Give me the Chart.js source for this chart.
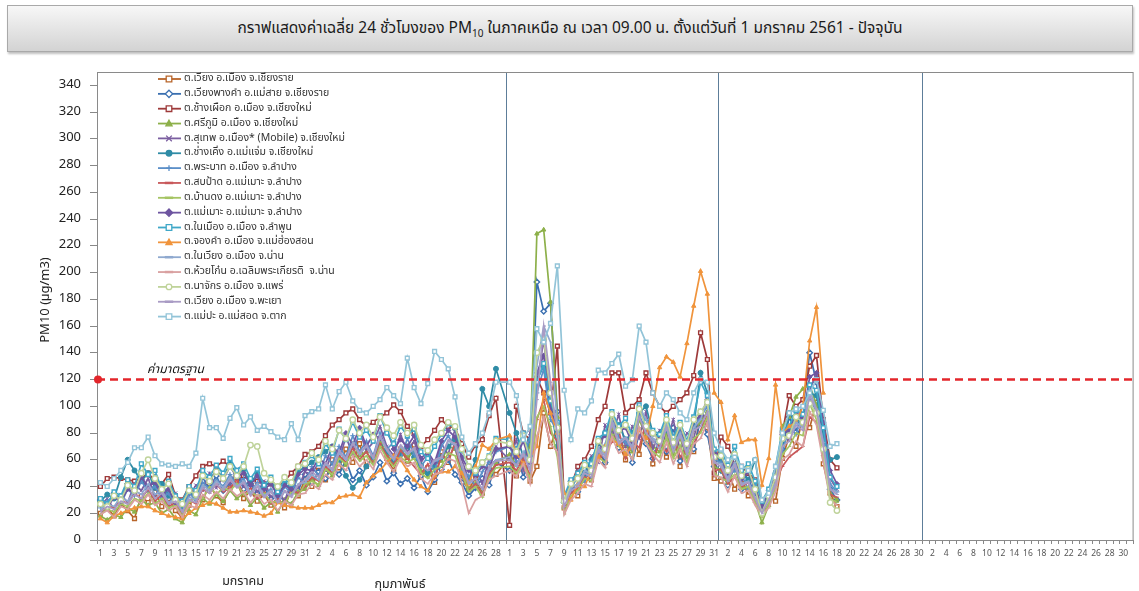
<!DOCTYPE html>
<html>
<head>
<meta charset="utf-8">
<script src="https://cdn.jsdelivr.net/npm/chart.js@4.4.1/dist/chart.umd.min.js"></script>
<style>
  html,body{margin:0;padding:0;background:#fff;}
  body{width:1139px;height:591px;overflow:hidden;position:relative;font-family:Tahoma,"Noto Sans Thai","Loma","Garuda","Noto Sans","DejaVu Sans",sans-serif;}
  #c{position:absolute;left:0;top:0;}
  .title{position:absolute;left:7px;top:5px;width:1124px;height:45px;border:1px solid #a9a9a9;
    background:linear-gradient(#f7f7f7,#d3d3d3);box-shadow:1px 2px 2px rgba(0,0,0,0.25);
    text-align:center;line-height:45px;font-size:15.5px;color:#1a1a1a;}
  .title sub{font-size:10px;vertical-align:-4px;line-height:0;}
  .month{position:absolute;font-size:12.5px;color:#222;transform:translateX(-50%);white-space:nowrap;}
</style>
</head>
<body>
<div class="title">กราฟแสดงค่าเฉลี่ย 24 ชั่วโมงของ PM<sub>10</sub> ในภาคเหนือ ณ เวลา 09.00 น. ตั้งแต่วันที่ 1 มกราคม 2561 - ปัจจุบัน</div>
<canvas id="c" width="1139" height="591"></canvas>
<div class="month" style="left:243px;top:572px;">มกราคม</div>
<div class="month" style="left:400px;top:575px;">กุมภาพันธ์</div>
<script>
// ---- axis structure (slots per month on the category axis; Feb has a 29th empty slot) ----
const monthDays = [31, 29, 31, 30, 31];
const realFebDays = 28;
const dividerMonthIdx = [2, 3, 4];        // vertical lines before these months
const standardValue = 120;                // ค่ามาตรฐาน
const yMax = 350, yStep = 20, yLabelMax = 340;

// ---- station names ----
const stationNames = [
  "ต.เวียง อ.เมือง จ.เชียงราย",
  "ต.เวียงพางคำ อ.แม่สาย จ.เชียงราย",
  "ต.ช้างเผือก อ.เมือง จ.เชียงใหม่",
  "ต.ศรีภูมิ อ.เมือง จ.เชียงใหม่",
  "ต.สุเทพ อ.เมือง* (Mobile) จ.เชียงใหม่",
  "ต.ช่างเคิ่ง อ.แม่แจ่ม จ.เชียงใหม่",
  "ต.พระบาท อ.เมือง จ.ลำปาง",
  "ต.สบป้าด อ.แม่เมาะ จ.ลำปาง",
  "ต.บ้านดง อ.แม่เมาะ จ.ลำปาง",
  "ต.แม่เมาะ อ.แม่เมาะ จ.ลำปาง",
  "ต.ในเมือง อ.เมือง จ.ลำพูน",
  "ต.จองคำ อ.เมือง จ.แม่ฮ่องสอน",
  "ต.ในเวียง อ.เมือง จ.น่าน",
  "ต.ห้วยโก๋น อ.เฉลิมพระเกียรติ  จ.น่าน",
  "ต.นาจักร อ.เมือง จ.แพร่",
  "ต.เวียง อ.เมือง จ.พะเยา",
  "ต.แม่ปะ อ.แม่สอด จ.ตาก"
];
const seriesColors = ["#B8652A","#3A6FB0","#9E3A3A","#8DB04A","#7B5EA0","#2F8CA6","#5B8FC8","#C8585A",
  "#A5C463","#6E55A0","#3FA8C8","#F0943C","#8FA9CF","#D9A0A0","#BFD39A","#A99BC4","#92C4D8"];
const seriesMarkers = ["rect","rectRot","rect","triangle","crossRot","circle","cross","dash",
  "dash","rectRot","rect","triangle","dash","dash","circle","dash","rect"];
const seriesOpen = [true,true,true,false,false,false,false,false,false,false,true,false,false,false,true,false,true];

// ---- daily values, 1 Jan – 18 Apr 2561 (Jan 31, Feb 28, Mar 31, Apr 18 values) ----
const st01 = [20,24,18,27,22,16,33,28,36,25, 31,22,17,26,35,30,41,33,28,39, 44,31,37,29,34,26,30,24,38,33,45,
  40,52,45,60,54,68,58,72,55,63, 74,61,52,68,59,71,47,54,43,66, 58,73,45,38,46,35,55,49,
  62,48,55,44,55,95,70,86,24,41, 33,50,45,66,58,83,72,60,79,64, 88,57,74,62,80,55,71,66,93,84,46,
  44,52,38,47,33,41,23,35,29,61, 78,70,92,84,103,57,35,25];
const st02 = [30,26,35,31,42,36,45,38,47,33, 37,28,25,36,31,44,39,48,37,43, 50,38,42,35,40,31,36,28,41,37,49,
  43,51,46,55,49,60,45,52,41,47, 58,44,50,42,46,39,48,36,45,53, 60,49,43,33,39,46,41,58,
  52,68,47,60,193,171,177,96,28,44, 36,53,48,70,58,84,69,75,58,80, 72,61,77,66,84,59,73,68,90,79,55,
  52,41,56,38,47,32,27,34,45,68, 92,81,97,140,118,72,38,30];
const st03 = [40,46,47,46,45,44,46,50,44,42, 49,33,30,40,48,55,57,55,59,55, 50,48,45,44,42,42,40,44,50,55,64,
  66,70,78,86,90,95,98,90,85,88, 92,95,101,96,85,80,70,75,82,90, 85,84,72,62,71,75,93,106,
  11,100,80,75,121,110,95,145,30,40, 55,60,70,90,100,125,125,95,100,105, 125,110,100,95,100,105,110,123,155,135,50,
  77,70,60,55,50,45,30,35,50,80, 108,100,105,130,138,90,60,54];
const st04 = [18,15,19,17,24,21,30,26,28,20, 23,16,13,22,19,31,27,34,29,37, 31,35,26,32,24,28,21,30,27,36,38,
  45,41,53,48,62,56,72,63,66,58, 75,64,57,68,62,66,52,48,57,59, 70,68,52,38,42,35,48,58,
  64,56,60,70,229,232,178,92,24,36, 38,47,52,63,68,84,72,70,66,90, 78,70,66,80,64,76,62,82,88,96,55,
  52,43,54,40,39,29,13,26,40,85, 92,107,113,116,101,64,35,30];
const st05 = [26,31,23,34,28,42,37,46,33,40, 27,35,22,33,41,37,50,39,47,42, 53,40,45,36,44,32,38,29,43,39,51,
  49,58,52,66,60,77,64,81,67,73, 85,70,63,79,66,74,58,65,54,72, 64,83,60,45,53,42,61,70,
  60,75,52,80,115,150,102,88,27,40, 52,44,63,58,86,77,94,70,85,76, 96,68,82,74,90,67,80,76,97,88,63,
  60,48,63,44,52,37,21,36,43,78, 74,95,86,112,125,76,46,38];
const st06 = [29,34,31,47,60,52,44,50,39,42, 33,30,24,36,33,49,45,52,47,57, 49,53,42,50,40,44,33,42,38,52,54,
  58,62,66,70,60,48,39,45,55,62, 70,66,60,64,70,62,56,50,55,62, 70,75,52,45,60,113,100,128,
  95,80,62,75,120,130,100,70,30,38, 48,50,60,72,80,90,86,75,80,95, 100,80,78,82,76,80,74,85,125,110,65,
  60,55,62,50,45,60,28,32,50,72, 95,90,88,110,108,80,60,62];
const st07 = [24,29,33,27,38,33,44,36,40,31, 35,26,21,35,30,43,38,45,40,49, 41,46,35,43,33,38,29,40,35,47,42,
  55,48,63,57,70,62,78,66,74,63, 80,68,73,60,76,64,55,62,51,70, 78,69,52,48,40,51,58,66,
  70,58,63,76,110,128,90,82,24,38, 49,43,59,64,71,90,77,73,68,94, 81,74,70,86,69,81,66,84,92,100,60,
  58,47,52,49,38,42,19,33,48,66, 84,79,94,106,96,74,42,36];
const st08 = [21,26,24,30,27,35,31,38,29,34, 25,28,19,30,27,38,35,42,36,39, 45,34,39,31,36,27,31,26,38,35,40,
  47,44,55,50,63,58,69,60,66,57, 72,63,56,67,61,55,49,57,46,63, 60,72,48,37,42,34,50,56,
  58,52,61,48,90,105,80,74,22,35, 39,47,44,60,66,73,82,61,74,69, 88,60,73,66,78,62,69,72,82,93,52,
  53,42,47,40,43,30,21,26,44,55, 62,66,70,92,88,63,34,32];
const st09 = [19,23,21,27,25,31,29,35,27,31, 24,26,18,28,32,31,40,34,39,37, 42,34,36,33,35,28,29,27,36,33,42,
  44,41,53,49,61,57,66,59,63,56, 70,61,55,62,58,61,50,46,53,55, 65,63,50,36,40,32,47,54,
  55,50,58,46,92,100,85,62,20,33, 37,46,44,62,58,79,70,66,61,84, 73,66,62,77,61,71,58,76,80,92,50,
  46,44,49,38,40,28,17,27,39,64, 70,80,78,102,90,62,31,28];
const st10 = [27,24,32,29,38,35,47,40,43,34, 38,28,27,37,35,48,44,52,45,55, 47,50,41,48,38,42,33,41,38,49,53,
  52,61,57,70,65,80,71,84,70,79, 76,83,68,75,70,78,61,66,58,74, 82,77,62,52,48,55,53,68,
  70,62,74,58,125,138,98,84,31,42, 47,56,53,73,78,93,81,84,72,98, 86,79,76,90,74,85,70,89,93,105,65,
  63,50,64,46,51,38,25,37,48,79, 82,96,90,122,125,88,52,42];
const st11 = [31,27,36,33,45,40,57,49,52,38, 44,33,29,40,37,52,47,56,50,61, 52,57,46,53,41,47,36,45,42,54,58,
  63,57,72,65,83,75,88,77,82,74, 93,80,72,85,78,83,66,61,70,79, 87,84,67,55,50,58,63,76,
  75,68,80,62,118,132,104,88,33,45, 50,58,57,76,80,96,85,91,78,101, 88,82,79,93,77,88,74,92,118,108,68,
  67,56,70,52,57,44,29,38,55,82, 85,97,94,116,112,84,47,40];
const st12 = [16,13,18,20,22,24,25,25,22,20, 18,17,16,20,24,26,28,27,24,21, 21,22,21,20,18,20,28,26,25,24,24,
  24,26,28,28,32,33,34,32,43,48, 52,58,63,60,52,45,40,37,48,51, 51,55,50,42,55,71,68,75,
  78,65,57,62,70,110,95,80,35,30, 42,40,52,62,70,75,72,64,70,82, 76,100,129,137,133,122,147,175,201,184,110,
  103,75,93,73,75,75,41,61,116,80, 85,88,100,149,174,110,null,null];
const st13 = [23,27,25,32,29,37,34,42,34,37, 28,31,21,32,30,41,37,44,39,47, 40,44,35,42,33,37,28,36,33,42,43,
  49,45,57,52,65,60,73,64,70,61, 77,67,60,70,64,68,55,52,59,61, 74,71,55,42,46,38,53,60,
  62,55,66,52,130,160,148,88,27,39, 42,52,49,69,63,90,74,77,70,100, 90,76,72,86,70,80,66,84,90,104,58,
  57,46,58,42,44,32,21,31,43,74, 77,88,84,112,98,73,38,36];
const st14 = [19,22,17,25,23,30,27,34,26,29, 22,25,17,26,24,34,30,36,31,38, 33,36,28,34,27,30,22,29,26,34,35,
  42,38,49,45,57,52,63,55,60,53, 67,58,51,61,55,58,46,42,49,51, 61,59,42,20,30,33,45,48,
  52,47,57,42,78,92,72,66,19,30, 35,42,40,60,54,77,65,68,60,84, 72,64,58,73,57,68,55,72,76,88,48,
  47,36,48,35,37,26,18,24,36,60, 64,74,70,96,86,58,30,26];
const st15 = [27,25,33,30,41,37,50,60,46,38, 42,30,27,37,34,48,44,51,46,55, 48,55,71,70,50,45,40,47,43,55,57,
  65,60,74,68,82,76,90,80,86,77, 92,84,78,88,80,86,71,67,75,80, 88,85,68,55,52,58,62,74,
  72,66,78,60,140,150,110,84,29,42, 46,56,52,74,68,94,82,86,76,98, 85,80,74,90,73,86,72,90,96,103,62,
  63,52,64,48,53,38,20,33,47,76, 78,92,88,102,95,68,28,22];
const st16 = [21,25,23,29,27,34,31,39,31,35, 27,29,21,30,28,39,35,42,37,45, 39,43,33,40,32,36,28,37,32,41,45,
  51,47,58,53,67,61,72,65,71,62, 78,68,61,71,65,69,56,52,60,62, 75,72,56,43,46,38,55,59,
  60,56,64,52,105,160,118,78,25,37, 40,50,47,67,61,87,72,76,68,92, 80,74,68,84,66,78,64,82,85,96,58,
  55,44,56,41,43,31,20,30,41,70, 74,86,82,108,97,70,38,34];
const st17 = [43,40,46,52,58,69,69,77,63,57, 56,55,57,55,65,106,84,84,76,91, 99,86,92,82,85,81,77,75,87,75,93,
  96,98,116,98,111,118,104,97,95,100, 105,114,108,102,136,114,102,117,141,135, 128,107,77,65,72,80,95,118,
  118,108,75,85,158,148,162,205,112,75, 98,95,104,127,125,132,139,115,120,160, 148,110,100,110,105,95,90,110,120,118,80,
  68,60,62,55,52,60,30,35,55,80, 95,98,100,110,120,97,70,72];
const stationValues = [st01,st02,st03,st04,st05,st06,st07,st08,st09,st10,st11,st12,st13,st14,st15,st16,st17];

// ---- build axis slots ----
const slotLabels = [];
const monthStart = [];
monthDays.forEach((n) => { monthStart.push(slotLabels.length); for (let d = 1; d <= n; d++) slotLabels.push(String(d)); });
const firstTwoMonths = monthDays[0] + realFebDays;
function toSlots(vals) {
  return vals.slice(0, firstTwoMonths).concat([null], vals.slice(firstTwoMonths));
}
const yTickValues = [];
for (let v = 0; v <= yLabelMax; v += yStep) yTickValues.push(v);

const FONT = 'Tahoma,"Noto Sans Thai","Loma","Garuda","Noto Sans","DejaVu Sans",sans-serif';

const datasets = stationValues.map((vals, i) => ({
  label: stationNames[i],
  data: toSlots(vals),
  borderColor: seriesColors[i],
  backgroundColor: seriesOpen[i] ? '#ffffff' : seriesColors[i],
  pointBorderColor: seriesColors[i],
  pointStyle: seriesMarkers[i],
  pointRadius: seriesMarkers[i] === 'dash' ? 2 : (seriesOpen[i] ? 2.7 : 2.5),
  pointBorderWidth: seriesOpen[i] ? 1.4 : 1,
  borderWidth: 1.7,
  spanGaps: true,
  order: stationValues.length - i
}));

function drawMarker(ctx, style, x, y, r, color, open) {
  ctx.save();
  ctx.strokeStyle = color; ctx.fillStyle = open ? '#fff' : color; ctx.lineWidth = 1.3;
  ctx.beginPath();
  if (style === 'rect') { ctx.rect(x - r, y - r, 2 * r, 2 * r); ctx.fill(); ctx.stroke(); }
  else if (style === 'rectRot') { ctx.moveTo(x, y - r * 1.3); ctx.lineTo(x + r * 1.3, y); ctx.lineTo(x, y + r * 1.3); ctx.lineTo(x - r * 1.3, y); ctx.closePath(); ctx.fill(); ctx.stroke(); }
  else if (style === 'triangle') { ctx.moveTo(x, y - r * 1.2); ctx.lineTo(x + r * 1.1, y + r * 0.8); ctx.lineTo(x - r * 1.1, y + r * 0.8); ctx.closePath(); ctx.fill(); ctx.stroke(); }
  else if (style === 'crossRot') { ctx.moveTo(x - r, y - r); ctx.lineTo(x + r, y + r); ctx.moveTo(x + r, y - r); ctx.lineTo(x - r, y + r); ctx.stroke(); }
  else if (style === 'circle') { ctx.arc(x, y, r, 0, Math.PI * 2); ctx.fill(); ctx.stroke(); }
  else if (style === 'cross') { ctx.moveTo(x - r, y); ctx.lineTo(x + r, y); ctx.moveTo(x, y - r); ctx.lineTo(x, y + r); ctx.stroke(); }
  else { ctx.lineWidth = 2.5; ctx.moveTo(x - r * 1.5, y); ctx.lineTo(x + r * 1.5, y); ctx.stroke(); }
  ctx.restore();
}

const overlay = {
  id: 'overlay',
  beforeDatasetsDraw(chart) {
    const { ctx, chartArea: a, scales: { x } } = chart;
    ctx.save();
    ctx.strokeStyle = '#5d7d99'; ctx.lineWidth = 1;
    dividerMonthIdx.forEach((m) => {
      const s = monthStart[m];
      const px = Math.round((x.getPixelForValue(s - 1) + x.getPixelForValue(s)) / 2) + 0.5;
      ctx.beginPath(); ctx.moveTo(px, a.top); ctx.lineTo(px, a.bottom); ctx.stroke();
    });
    ctx.strokeStyle = '#8a8a8a';
    ctx.strokeRect(a.left + 0.5, a.top + 0.5, a.right - a.left - 1, a.bottom - a.top);
    ctx.restore();
  },
  afterDatasetsDraw(chart) {
    const { ctx, chartArea: a, scales: { y } } = chart;
    ctx.save();
    const py = y.getPixelForValue(standardValue);
    ctx.strokeStyle = '#e3262b'; ctx.lineWidth = 2.5; ctx.setLineDash([8, 5]);
    ctx.beginPath(); ctx.moveTo(a.left, py); ctx.lineTo(a.right, py); ctx.stroke();
    ctx.setLineDash([]);
    ctx.fillStyle = '#e3262b'; ctx.beginPath(); ctx.arc(a.left + 1, py, 4, 0, Math.PI * 2); ctx.fill();
    ctx.fillStyle = '#111'; ctx.font = 'italic 12px ' + FONT; ctx.textBaseline = 'bottom'; ctx.textAlign = 'left';
    ctx.fillText('ค่ามาตรฐาน', a.left + 50, py - 3);
    ctx.save();
    ctx.translate(46, 300); ctx.rotate(-Math.PI / 2);
    ctx.font = '13px ' + FONT; ctx.fillStyle = '#222'; ctx.textAlign = 'center'; ctx.textBaseline = 'middle';
    ctx.fillText('PM10 (µg/m3)', 0, 0);
    ctx.restore();
    ctx.font = '10.5px ' + FONT; ctx.textBaseline = 'middle'; ctx.textAlign = 'left';
    chart.data.datasets.forEach((ds, i) => {
      const ly = 79 + i * 14.85;
      ctx.strokeStyle = seriesColors[i]; ctx.lineWidth = 1.8;
      ctx.beginPath(); ctx.moveTo(158, ly); ctx.lineTo(181, ly); ctx.stroke();
      drawMarker(ctx, seriesMarkers[i], 169, ly, 2.8, seriesColors[i], seriesOpen[i]);
      ctx.fillStyle = '#333';
      ctx.fillText(ds.label, 184, ly);
    });
    ctx.restore();
  }
};

new Chart(document.getElementById('c'), {
  type: 'line',
  data: { labels: slotLabels, datasets },
  options: {
    responsive: false,
    animation: false,
    devicePixelRatio: 1,
    layout: { padding: { top: 72, right: 4, left: 0, bottom: 0 } },
    plugins: { legend: { display: false }, tooltip: { enabled: false }, title: { display: false } },
    elements: { line: { tension: 0 } },
    scales: {
      x: {
        type: 'category', offset: true,
        grid: { drawOnChartArea: false, drawTicks: true, tickLength: 4, color: '#888', offset: true },
        border: { display: true, color: '#888' },
        ticks: { autoSkip: false, maxRotation: 0, minRotation: 0, padding: 5, color: '#555',
          font: { size: 8.5, family: FONT },
          callback: (v, i) => (i % 2 === 0 ? slotLabels[i] : '') },
        afterFit: (s) => { s.height = 51; }
      },
      y: {
        min: 0, max: yMax,
        afterBuildTicks: (s) => { s.ticks = yTickValues.map((v) => ({ value: v })); },
        ticks: { padding: 9, color: '#222', font: { size: 13, family: FONT } },
        grid: { drawOnChartArea: false, drawTicks: true, tickLength: 7, color: '#888' },
        border: { display: true, color: '#888' },
        afterFit: (s) => { s.width = 97; }
      }
    }
  },
  plugins: [overlay]
});
</script>
</body>
</html>
